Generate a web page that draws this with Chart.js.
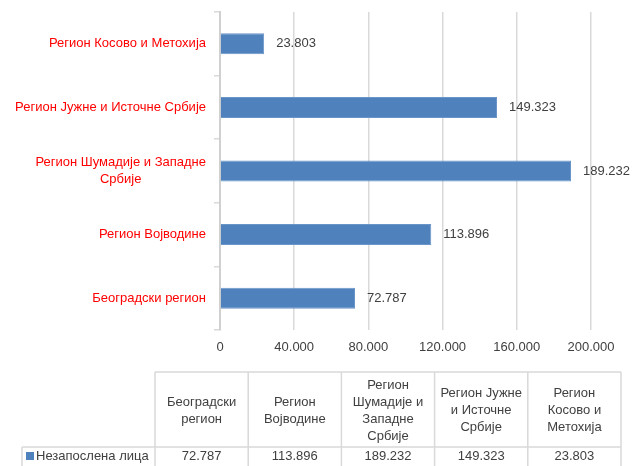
<!DOCTYPE html>
<html>
<head>
<meta charset="utf-8">
<script src="https://cdn.jsdelivr.net/npm/chart.js@4.4.0/dist/chart.umd.min.js"></script>
<style>
  body { margin: 0; background: #fff; }
  #wrap { width: 639px; height: 466px; position: relative; }
</style>
</head>
<body>
<div id="wrap"><canvas id="myChart"></canvas></div>
<script>
// data
var regions = ["Београдски регион", "Регион Војводине", "Регион Шумадије и Западне Србије", "Регион Јужне и Источне Србије", "Регион Косово и Метохија"];
var unemployed = [72787, 113896, 189232, 149323, 23803];
var seriesName = "Незапослена лица";
var xTicks = [0, 40000, 80000, 120000, 160000, 200000];

var FONT = "'Liberation Sans', Arial, sans-serif";
var barColor = "#4f81bd";
var textGray = "#404040";
var lineGray = "#d9d9d9";

function fmt(v) {
  return String(v).replace(/\B(?=(\d{3})+(?!\d))/g, ".");
}

function wrapText(ctx, text, maxW) {
  var words = text.split(" ");
  var lines = [];
  var cur = "";
  words.forEach(function (w) {
    var test = cur ? cur + " " + w : w;
    if (cur && ctx.measureText(test).width > maxW) {
      lines.push(cur);
      cur = w;
    } else {
      cur = test;
    }
  });
  if (cur) lines.push(cur);
  return lines;
}

// category labels: block right aligned, lines centered within the block
var catLabels = {
  id: "catLabels",
  afterDraw: function (chart) {
    var ctx = chart.ctx;
    var y = chart.scales.y;
    ctx.save();
    ctx.font = "13px " + FONT;
    ctx.fillStyle = "#ff0000";
    ctx.textAlign = "center";
    ctx.textBaseline = "middle";
    var rightEdge = y.right - 14;
    var lh = 17;
    regions.forEach(function (r, i) {
      var lines = wrapText(ctx, r, 200);
      var w = Math.max.apply(null, lines.map(function (l) { return ctx.measureText(l).width; }));
      var cx = rightEdge - w / 2;
      var cy = y.getPixelForTick(i);
      var y0 = cy - (lines.length - 1) * lh / 2;
      lines.forEach(function (ln, k) {
        ctx.fillText(ln, cx, y0 + k * lh);
      });
    });
    ctx.restore();
  }
};

// value labels at bar ends
var valueLabels = {
  id: "valueLabels",
  afterDatasetsDraw: function (chart) {
    var ctx = chart.ctx;
    var meta = chart.getDatasetMeta(0);
    ctx.save();
    ctx.font = "13px " + FONT;
    ctx.fillStyle = textGray;
    ctx.textAlign = "left";
    ctx.textBaseline = "middle";
    meta.data.forEach(function (bar, i) {
      ctx.fillText(fmt(unemployed[i]), bar.x + 12, bar.y);
    });
    ctx.restore();
  }
};

// data table under the chart
var dataTable = {
  id: "dataTable",
  afterDraw: function (chart) {
    var ctx = chart.ctx;
    var left = 155, right = 621, top = 372, headH = 75, rowH = 22, keyLeft = 22;
    var colW = (right - left) / regions.length;
    ctx.save();
    ctx.strokeStyle = lineGray;
    ctx.lineWidth = 1.5;
    ctx.beginPath();
    ctx.moveTo(left, top); ctx.lineTo(right, top);
    ctx.moveTo(keyLeft, top + headH); ctx.lineTo(right, top + headH);
    ctx.moveTo(keyLeft, top + headH); ctx.lineTo(keyLeft, top + headH + rowH);
    for (var c = 0; c <= regions.length; c++) {
      var x = left + c * colW;
      ctx.moveTo(x, top); ctx.lineTo(x, top + headH + rowH);
    }
    ctx.stroke();

    ctx.fillStyle = textGray;
    ctx.font = "13px " + FONT;
    ctx.textAlign = "center";
    ctx.textBaseline = "middle";
    var lh = 17;
    regions.forEach(function (r, i) {
      var cx = left + colW * (i + 0.5);
      var lines = wrapText(ctx, r, colW - 7);
      var y0 = top + headH / 2 + 1 - (lines.length - 1) * lh / 2;
      lines.forEach(function (ln, k) {
        ctx.fillText(ln, cx, y0 + k * lh);
      });
      ctx.fillText(fmt(unemployed[i]), cx, top + headH + 9);
    });

    // legend key
    ctx.fillStyle = barColor;
    ctx.fillRect(26, top + headH + 5, 8, 8);
    ctx.fillStyle = textGray;
    ctx.textAlign = "left";
    ctx.fillText(seriesName, 36, top + headH + 9);
    ctx.restore();
  }
};

new Chart("myChart", {
  type: "bar",
  data: {
    labels: regions,
    datasets: [{
      label: seriesName,
      data: unemployed,
      backgroundColor: barColor,
      borderColor: "#6a95c8",
      borderWidth: 1,
      barPercentage: 0.33,
      categoryPercentage: 1
    }]
  },
  options: {
    indexAxis: "y",
    responsive: true,
    maintainAspectRatio: false,
    animation: false,
    layout: { padding: { top: 12, right: 48, bottom: 100, left: 0 } },
    plugins: {
      legend: { display: false },
      tooltip: { enabled: false }
    },
    scales: {
      x: {
        min: 0,
        max: 200000,
        afterBuildTicks: function (scale) {
          scale.ticks = xTicks.map(function (v) { return { value: v }; });
        },
        afterFit: function (scale) { scale.height = 36; },
        grid: { color: lineGray, lineWidth: 1.5, drawTicks: false },
        border: { display: false },
        ticks: {
          color: textGray,
          font: { family: FONT, size: 13 },
          padding: 10,
          callback: function (v) { return fmt(v); }
        }
      },
      y: {
        reverse: true,
        afterFit: function (scale) { scale.width = 220; },
        grid: { offset: true, drawOnChartArea: false, tickLength: 6, color: lineGray, lineWidth: 1.5 },
        border: { color: "#d0d0d0", width: 2 },
        ticks: { display: false }
      }
    }
  },
  plugins: [valueLabels, catLabels, dataTable]
});
</script>
</body>
</html>
